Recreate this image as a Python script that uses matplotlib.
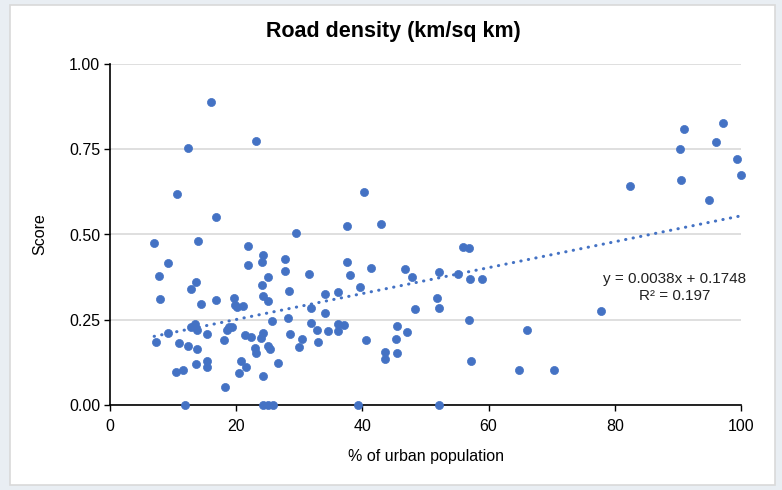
import numpy as np
import matplotlib
matplotlib.use("Agg")
import matplotlib.pyplot as plt
from matplotlib.patches import Rectangle

# Data
urban_pct = [
    7.0, 13.9, 21.9, 24.2, 24.1, 21.9, 9.2, 7.7, 13.7, 12.8,
    25.0, 24.1, 8.0, 14.4, 16.8, 19.7, 19.8, 21.0, 20.2, 24.3,
    25.0, 25.6, 9.2, 7.3, 10.9, 13.4, 13.8, 12.9, 15.3, 12.4,
    13.8, 18.0, 18.9, 19.3, 18.5, 21.4, 22.4, 23.0, 23.2, 24.3,
    24.0, 25.1, 25.4, 13.7, 15.3, 15.4, 10.4, 11.6, 20.7, 20.5,
    21.5, 18.2, 24.3, 26.7, 11.9, 24.3, 25.1, 25.9, 16.0, 12.4,
    23.1, 10.6, 16.8, 40.3, 37.5, 42.9, 29.5, 27.7, 27.7, 31.5,
    37.5, 38.0, 41.4, 46.7, 47.9, 52.1, 28.3, 34.0, 36.2, 39.6,
    51.8, 31.9, 34.1, 48.3, 52.1, 28.2, 31.8, 32.8, 34.5, 36.2,
    37.1, 36.2, 28.5, 30.5, 29.9, 32.9, 40.5, 45.5, 47.0, 45.4,
    43.6, 43.6, 45.5, 39.3, 52.1, 55.9, 56.9, 55.2, 57.1, 58.9,
    56.9, 66.1, 57.2, 64.8, 70.4, 77.8, 90.9, 97.1, 90.3, 96.0,
    99.4, 100.0, 82.4, 90.5, 94.9,
]
score = [
    0.476, 0.481, 0.467, 0.439, 0.420, 0.411, 0.415, 0.378, 0.360, 0.340,
    0.376, 0.351, 0.310, 0.296, 0.309, 0.315, 0.293, 0.289, 0.286, 0.320,
    0.306, 0.246, 0.212, 0.185, 0.183, 0.237, 0.220, 0.228, 0.209, 0.172,
    0.164, 0.192, 0.228, 0.230, 0.220, 0.206, 0.198, 0.166, 0.153, 0.210,
    0.196, 0.173, 0.165, 0.119, 0.130, 0.112, 0.097, 0.102, 0.130, 0.093,
    0.111, 0.053, 0.085, 0.122, 0.0, 0.0, 0.0, 0.0, 0.889, 0.754,
    0.774, 0.620, 0.550, 0.624, 0.524, 0.531, 0.503, 0.427, 0.393, 0.383,
    0.420, 0.382, 0.403, 0.398, 0.374, 0.391, 0.335, 0.326, 0.331, 0.346,
    0.313, 0.284, 0.271, 0.282, 0.283, 0.254, 0.241, 0.220, 0.216, 0.238,
    0.235, 0.218, 0.208, 0.194, 0.171, 0.186, 0.190, 0.231, 0.214, 0.194,
    0.155, 0.134, 0.153, 0.0, 0.0, 0.462, 0.459, 0.384, 0.369, 0.369,
    0.250, 0.221, 0.130, 0.104, 0.104, 0.277, 0.809, 0.826, 0.752, 0.772,
    0.722, 0.675, 0.643, 0.660, 0.601,
]

# Linear trendline as shown on the chart
slope = 0.0038
intercept = 0.1748
r_squared = 0.197

x_ticks = [0, 20, 40, 60, 80, 100]
y_ticks = [0.00, 0.25, 0.50, 0.75, 1.00]

blue = '#4472c4'

plt.rcParams['font.family'] = ['Liberation Sans', 'DejaVu Sans']

fig = plt.figure(figsize=(7.82, 4.90), dpi=100, facecolor='#e9eef3')

# white chart area with light border, behind everything
fig.patches.append(Rectangle((10 / 782, 1 - 485 / 490), 765 / 782, 480 / 490,
                             transform=fig.transFigure, facecolor='white',
                             edgecolor='#d9d9d9', linewidth=1.2, zorder=-10))

ax = fig.add_axes([110 / 782, 1 - 405 / 490, 631 / 782, 341 / 490])
ax.set_facecolor('none')

ax.scatter(urban_pct, score, s=34, color=blue, edgecolors=blue,
           linewidths=0.5, zorder=3, clip_on=False)

# trendline
tx = np.array([min(urban_pct), max(urban_pct)])
ax.plot(tx, slope * tx + intercept, color=blue, linewidth=2.2,
        linestyle=(0, (0.1, 2.4)), dash_capstyle='round', zorder=4)

ax.text(89.5, 0.345, f"y = {slope}x + {intercept}\nR² = {r_squared}",
        ha='center', va='center', fontsize=11, linespacing=1.3, color='#222222')

ax.set_xlim(0, 100)
ax.set_ylim(0, 1)
ax.set_xticks(x_ticks)
ax.set_yticks(y_ticks)
ax.set_yticklabels([f"{v:.2f}" for v in y_ticks])
ax.tick_params(axis='both', labelsize=11.5, length=4, width=1, colors='black',
               direction='out')
ax.tick_params(axis='x', pad=6)
ax.tick_params(axis='y', pad=3)

ax.grid(axis='y', color='#d9d9d9', linewidth=1.2)
ax.set_axisbelow(True)
for side in ['top', 'right']:
    ax.spines[side].set_visible(False)
for side in ['left', 'bottom']:
    ax.spines[side].set_color('black')
    ax.spines[side].set_linewidth(1.2)

ax.set_xlabel("% of urban population", fontsize=11.5, labelpad=11)
ax.set_ylabel("Score", fontsize=11.5, labelpad=16)

fig.text(393 / 782, 1 - 31 / 490, "Road density (km/sq km)", ha='center',
         va='center', fontsize=15.5, fontweight='bold')

fig.savefig("out.png", dpi=100, facecolor=fig.get_facecolor())
